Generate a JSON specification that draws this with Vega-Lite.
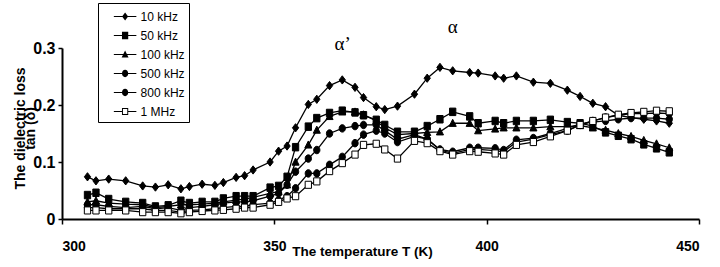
{
  "$schema": "https://vega.github.io/schema/vega-lite/v6.json",
  "autosize": "none",
  "width": 637,
  "height": 171,
  "padding": {"left": 62, "top": 48, "right": 21, "bottom": 48},
  "background": "white",
  "config": {
    "view": {"stroke": null},
    "axis": {"grid": false, "domainColor": "black", "domainWidth": 2, "tickColor": "black", "tickWidth": 1.5, "labelColor": "black", "titleColor": "black"}
  },
  "datasets": {
    "pts": [
      {"s":"10 kHz","T":306,"v":0.074},{"s":"10 kHz","T":308,"v":0.067},{"s":"10 kHz","T":311,"v":0.070},{"s":"10 kHz","T":315,"v":0.067},{"s":"10 kHz","T":319,"v":0.058},{"s":"10 kHz","T":322,"v":0.056},{"s":"10 kHz","T":325,"v":0.060},{"s":"10 kHz","T":328,"v":0.053},{"s":"10 kHz","T":330,"v":0.057},{"s":"10 kHz","T":333,"v":0.061},{"s":"10 kHz","T":336,"v":0.059},{"s":"10 kHz","T":338,"v":0.064},{"s":"10 kHz","T":341,"v":0.073},{"s":"10 kHz","T":343,"v":0.076},{"s":"10 kHz","T":345,"v":0.086},{"s":"10 kHz","T":349,"v":0.100},{"s":"10 kHz","T":351,"v":0.119},{"s":"10 kHz","T":353,"v":0.128},{"s":"10 kHz","T":355,"v":0.160},{"s":"10 kHz","T":358,"v":0.201},{"s":"10 kHz","T":360,"v":0.210},{"s":"10 kHz","T":363,"v":0.234},{"s":"10 kHz","T":366,"v":0.244},{"s":"10 kHz","T":369,"v":0.231},{"s":"10 kHz","T":371,"v":0.213},{"s":"10 kHz","T":374,"v":0.197},{"s":"10 kHz","T":376,"v":0.192},{"s":"10 kHz","T":379,"v":0.198},{"s":"10 kHz","T":383,"v":0.219},{"s":"10 kHz","T":386,"v":0.247},{"s":"10 kHz","T":389,"v":0.266},{"s":"10 kHz","T":392,"v":0.260},{"s":"10 kHz","T":396,"v":0.257},{"s":"10 kHz","T":398,"v":0.256},{"s":"10 kHz","T":402,"v":0.251},{"s":"10 kHz","T":404,"v":0.247},{"s":"10 kHz","T":407,"v":0.251},{"s":"10 kHz","T":411,"v":0.240},{"s":"10 kHz","T":415,"v":0.238},{"s":"10 kHz","T":419,"v":0.226},{"s":"10 kHz","T":422,"v":0.215},{"s":"10 kHz","T":425,"v":0.203},{"s":"10 kHz","T":428,"v":0.197},{"s":"10 kHz","T":431,"v":0.182},{"s":"10 kHz","T":434,"v":0.178},{"s":"10 kHz","T":437,"v":0.175},{"s":"10 kHz","T":440,"v":0.172},{"s":"10 kHz","T":443,"v":0.168},

      {"s":"50 kHz","T":306,"v":0.042},{"s":"50 kHz","T":308,"v":0.046},{"s":"50 kHz","T":311,"v":0.035},{"s":"50 kHz","T":315,"v":0.030},{"s":"50 kHz","T":319,"v":0.028},{"s":"50 kHz","T":322,"v":0.022},{"s":"50 kHz","T":325,"v":0.024},{"s":"50 kHz","T":328,"v":0.032},{"s":"50 kHz","T":330,"v":0.028},{"s":"50 kHz","T":333,"v":0.030},{"s":"50 kHz","T":336,"v":0.030},{"s":"50 kHz","T":338,"v":0.036},{"s":"50 kHz","T":341,"v":0.040},{"s":"50 kHz","T":343,"v":0.040},{"s":"50 kHz","T":345,"v":0.040},{"s":"50 kHz","T":349,"v":0.055},{"s":"50 kHz","T":351,"v":0.058},{"s":"50 kHz","T":353,"v":0.074},{"s":"50 kHz","T":355,"v":0.126},{"s":"50 kHz","T":358,"v":0.162},{"s":"50 kHz","T":360,"v":0.177},{"s":"50 kHz","T":363,"v":0.186},{"s":"50 kHz","T":366,"v":0.190},{"s":"50 kHz","T":369,"v":0.187},{"s":"50 kHz","T":371,"v":0.182},{"s":"50 kHz","T":374,"v":0.174},{"s":"50 kHz","T":376,"v":0.165},{"s":"50 kHz","T":379,"v":0.153},{"s":"50 kHz","T":383,"v":0.153},{"s":"50 kHz","T":386,"v":0.163},{"s":"50 kHz","T":389,"v":0.175},{"s":"50 kHz","T":392,"v":0.188},{"s":"50 kHz","T":396,"v":0.180},{"s":"50 kHz","T":398,"v":0.168},{"s":"50 kHz","T":402,"v":0.172},{"s":"50 kHz","T":404,"v":0.168},{"s":"50 kHz","T":407,"v":0.172},{"s":"50 kHz","T":411,"v":0.172},{"s":"50 kHz","T":415,"v":0.174},{"s":"50 kHz","T":419,"v":0.170},{"s":"50 kHz","T":422,"v":0.168},{"s":"50 kHz","T":425,"v":0.163},{"s":"50 kHz","T":428,"v":0.152},{"s":"50 kHz","T":431,"v":0.146},{"s":"50 kHz","T":434,"v":0.140},{"s":"50 kHz","T":437,"v":0.131},{"s":"50 kHz","T":440,"v":0.124},{"s":"50 kHz","T":443,"v":0.117},

      {"s":"100 kHz","T":306,"v":0.030},{"s":"100 kHz","T":308,"v":0.032},{"s":"100 kHz","T":311,"v":0.028},{"s":"100 kHz","T":315,"v":0.026},{"s":"100 kHz","T":319,"v":0.025},{"s":"100 kHz","T":322,"v":0.020},{"s":"100 kHz","T":325,"v":0.022},{"s":"100 kHz","T":328,"v":0.025},{"s":"100 kHz","T":330,"v":0.025},{"s":"100 kHz","T":333,"v":0.026},{"s":"100 kHz","T":336,"v":0.028},{"s":"100 kHz","T":338,"v":0.030},{"s":"100 kHz","T":341,"v":0.033},{"s":"100 kHz","T":343,"v":0.035},{"s":"100 kHz","T":345,"v":0.038},{"s":"100 kHz","T":349,"v":0.045},{"s":"100 kHz","T":351,"v":0.048},{"s":"100 kHz","T":353,"v":0.060},{"s":"100 kHz","T":355,"v":0.100},{"s":"100 kHz","T":358,"v":0.130},{"s":"100 kHz","T":360,"v":0.156},{"s":"100 kHz","T":363,"v":0.180},{"s":"100 kHz","T":366,"v":0.188},{"s":"100 kHz","T":369,"v":0.188},{"s":"100 kHz","T":371,"v":0.183},{"s":"100 kHz","T":374,"v":0.172},{"s":"100 kHz","T":376,"v":0.160},{"s":"100 kHz","T":379,"v":0.148},{"s":"100 kHz","T":383,"v":0.150},{"s":"100 kHz","T":386,"v":0.152},{"s":"100 kHz","T":389,"v":0.153},{"s":"100 kHz","T":392,"v":0.168},{"s":"100 kHz","T":396,"v":0.168},{"s":"100 kHz","T":398,"v":0.155},{"s":"100 kHz","T":402,"v":0.158},{"s":"100 kHz","T":404,"v":0.160},{"s":"100 kHz","T":407,"v":0.160},{"s":"100 kHz","T":411,"v":0.160},{"s":"100 kHz","T":415,"v":0.162},{"s":"100 kHz","T":419,"v":0.162},{"s":"100 kHz","T":422,"v":0.164},{"s":"100 kHz","T":425,"v":0.160},{"s":"100 kHz","T":428,"v":0.156},{"s":"100 kHz","T":431,"v":0.150},{"s":"100 kHz","T":434,"v":0.145},{"s":"100 kHz","T":437,"v":0.138},{"s":"100 kHz","T":440,"v":0.132},{"s":"100 kHz","T":443,"v":0.125},

      {"s":"500 kHz","T":306,"v":0.025},{"s":"500 kHz","T":308,"v":0.025},{"s":"500 kHz","T":311,"v":0.022},{"s":"500 kHz","T":315,"v":0.020},{"s":"500 kHz","T":319,"v":0.022},{"s":"500 kHz","T":322,"v":0.018},{"s":"500 kHz","T":325,"v":0.020},{"s":"500 kHz","T":328,"v":0.015},{"s":"500 kHz","T":330,"v":0.020},{"s":"500 kHz","T":333,"v":0.022},{"s":"500 kHz","T":336,"v":0.025},{"s":"500 kHz","T":338,"v":0.028},{"s":"500 kHz","T":341,"v":0.030},{"s":"500 kHz","T":343,"v":0.030},{"s":"500 kHz","T":345,"v":0.032},{"s":"500 kHz","T":349,"v":0.040},{"s":"500 kHz","T":351,"v":0.045},{"s":"500 kHz","T":353,"v":0.060},{"s":"500 kHz","T":355,"v":0.083},{"s":"500 kHz","T":358,"v":0.106},{"s":"500 kHz","T":360,"v":0.121},{"s":"500 kHz","T":363,"v":0.150},{"s":"500 kHz","T":366,"v":0.159},{"s":"500 kHz","T":369,"v":0.163},{"s":"500 kHz","T":371,"v":0.165},{"s":"500 kHz","T":374,"v":0.165},{"s":"500 kHz","T":376,"v":0.155},{"s":"500 kHz","T":379,"v":0.140},{"s":"500 kHz","T":383,"v":0.148},{"s":"500 kHz","T":386,"v":0.140},{"s":"500 kHz","T":389,"v":0.122},{"s":"500 kHz","T":392,"v":0.118},{"s":"500 kHz","T":396,"v":0.125},{"s":"500 kHz","T":398,"v":0.125},{"s":"500 kHz","T":402,"v":0.124},{"s":"500 kHz","T":404,"v":0.121},{"s":"500 kHz","T":407,"v":0.139},{"s":"500 kHz","T":411,"v":0.142},{"s":"500 kHz","T":415,"v":0.150},{"s":"500 kHz","T":419,"v":0.159},{"s":"500 kHz","T":422,"v":0.167},{"s":"500 kHz","T":425,"v":0.170},{"s":"500 kHz","T":428,"v":0.172},{"s":"500 kHz","T":431,"v":0.175},{"s":"500 kHz","T":434,"v":0.177},{"s":"500 kHz","T":437,"v":0.177},{"s":"500 kHz","T":440,"v":0.177},{"s":"500 kHz","T":443,"v":0.175},

      {"s":"800 kHz","T":306,"v":0.020},{"s":"800 kHz","T":308,"v":0.020},{"s":"800 kHz","T":311,"v":0.018},{"s":"800 kHz","T":315,"v":0.018},{"s":"800 kHz","T":319,"v":0.018},{"s":"800 kHz","T":322,"v":0.015},{"s":"800 kHz","T":325,"v":0.015},{"s":"800 kHz","T":328,"v":0.012},{"s":"800 kHz","T":330,"v":0.015},{"s":"800 kHz","T":333,"v":0.016},{"s":"800 kHz","T":336,"v":0.018},{"s":"800 kHz","T":338,"v":0.020},{"s":"800 kHz","T":341,"v":0.022},{"s":"800 kHz","T":343,"v":0.022},{"s":"800 kHz","T":345,"v":0.025},{"s":"800 kHz","T":349,"v":0.028},{"s":"800 kHz","T":351,"v":0.033},{"s":"800 kHz","T":353,"v":0.040},{"s":"800 kHz","T":355,"v":0.054},{"s":"800 kHz","T":358,"v":0.080},{"s":"800 kHz","T":360,"v":0.080},{"s":"800 kHz","T":363,"v":0.095},{"s":"800 kHz","T":366,"v":0.109},{"s":"800 kHz","T":369,"v":0.133},{"s":"800 kHz","T":371,"v":0.148},{"s":"800 kHz","T":374,"v":0.155},{"s":"800 kHz","T":376,"v":0.150},{"s":"800 kHz","T":379,"v":0.135},{"s":"800 kHz","T":383,"v":0.145},{"s":"800 kHz","T":386,"v":0.140},{"s":"800 kHz","T":389,"v":0.121},{"s":"800 kHz","T":392,"v":0.115},{"s":"800 kHz","T":396,"v":0.122},{"s":"800 kHz","T":398,"v":0.122},{"s":"800 kHz","T":402,"v":0.120},{"s":"800 kHz","T":404,"v":0.118},{"s":"800 kHz","T":407,"v":0.135},{"s":"800 kHz","T":411,"v":0.140},{"s":"800 kHz","T":415,"v":0.148},{"s":"800 kHz","T":419,"v":0.155},{"s":"800 kHz","T":422,"v":0.165},{"s":"800 kHz","T":425,"v":0.172},{"s":"800 kHz","T":428,"v":0.178},{"s":"800 kHz","T":431,"v":0.182},{"s":"800 kHz","T":434,"v":0.185},{"s":"800 kHz","T":437,"v":0.185},{"s":"800 kHz","T":440,"v":0.186},{"s":"800 kHz","T":443,"v":0.185},

      {"s":"1 MHz","T":306,"v":0.015},{"s":"1 MHz","T":308,"v":0.015},{"s":"1 MHz","T":311,"v":0.015},{"s":"1 MHz","T":315,"v":0.015},{"s":"1 MHz","T":319,"v":0.012},{"s":"1 MHz","T":322,"v":0.012},{"s":"1 MHz","T":325,"v":0.012},{"s":"1 MHz","T":328,"v":0.010},{"s":"1 MHz","T":330,"v":0.012},{"s":"1 MHz","T":333,"v":0.014},{"s":"1 MHz","T":336,"v":0.015},{"s":"1 MHz","T":338,"v":0.016},{"s":"1 MHz","T":341,"v":0.018},{"s":"1 MHz","T":343,"v":0.020},{"s":"1 MHz","T":345,"v":0.020},{"s":"1 MHz","T":349,"v":0.025},{"s":"1 MHz","T":351,"v":0.030},{"s":"1 MHz","T":353,"v":0.036},{"s":"1 MHz","T":355,"v":0.040},{"s":"1 MHz","T":358,"v":0.060},{"s":"1 MHz","T":360,"v":0.066},{"s":"1 MHz","T":363,"v":0.084},{"s":"1 MHz","T":366,"v":0.098},{"s":"1 MHz","T":369,"v":0.113},{"s":"1 MHz","T":371,"v":0.130},{"s":"1 MHz","T":374,"v":0.132},{"s":"1 MHz","T":376,"v":0.122},{"s":"1 MHz","T":379,"v":0.106},{"s":"1 MHz","T":383,"v":0.137},{"s":"1 MHz","T":386,"v":0.133},{"s":"1 MHz","T":389,"v":0.119},{"s":"1 MHz","T":392,"v":0.113},{"s":"1 MHz","T":396,"v":0.119},{"s":"1 MHz","T":398,"v":0.118},{"s":"1 MHz","T":402,"v":0.115},{"s":"1 MHz","T":404,"v":0.113},{"s":"1 MHz","T":407,"v":0.130},{"s":"1 MHz","T":411,"v":0.135},{"s":"1 MHz","T":415,"v":0.145},{"s":"1 MHz","T":419,"v":0.155},{"s":"1 MHz","T":422,"v":0.165},{"s":"1 MHz","T":425,"v":0.172},{"s":"1 MHz","T":428,"v":0.178},{"s":"1 MHz","T":431,"v":0.183},{"s":"1 MHz","T":434,"v":0.186},{"s":"1 MHz","T":437,"v":0.188},{"s":"1 MHz","T":440,"v":0.190},{"s":"1 MHz","T":443,"v":0.189}
    ],
    "notes": [
      {"label": "α’", "T": 366.1, "v": 0.307},
      {"label": "α", "T": 392, "v": 0.337}
    ]
  },
  "resolve": {"scale": {"shape": "independent"}, "legend": {"shape": "independent"}},
  "layer": [
    {
      "data": {"name": "pts"},
      "mark": {"type": "line", "color": "black", "strokeWidth": 1.3},
      "encoding": {
        "x": {"field": "T", "type": "quantitative", "scale": {"domain": [300, 450], "nice": false, "zero": false},
          "axis": {"values": [300, 350, 400, 450], "labelFont": "Liberation Sans", "labelFontWeight": "bold", "labelFontSize": 14, "tickSize": 5, "labelPadding": 15, "title": "The temperature  T (K)", "titleFont": "Liberation Sans", "titleFontWeight": "bold", "titleFontSize": 13.5, "titleX": 300, "titleY": 36, "titleAlign": "center", "titleBaseline": "alphabetic", "titleAnchor": null}},
        "y": {"field": "v", "type": "quantitative", "scale": {"domain": [0, 0.3], "nice": false},
          "axis": {"values": [0, 0.1, 0.2, 0.3], "format": "~g", "labelFont": "Liberation Sans", "labelFontWeight": "bold", "labelFontSize": 16, "tickSize": 4, "labelPadding": 3, "title": ["The dielectric loss", "tan (δ)"], "titleFont": "Liberation Sans", "titleFontWeight": "bold", "titleFontSize": 14, "titleLineHeight": 10, "titleX": -42, "titleY": 80, "titleAlign": "center", "titleBaseline": "middle", "titleAngle": 270}},
        "detail": {"field": "s"}
      }
    },
    {
      "data": {"name": "pts"},
      "mark": {"type": "point", "size": 62, "stroke": "black", "strokeWidth": 1, "opacity": 1},
      "encoding": {
        "x": {"field": "T", "type": "quantitative"},
        "y": {"field": "v", "type": "quantitative"},
        "fill": {"field": "s", "type": "nominal", "scale": {"domain": ["10 kHz", "50 kHz", "100 kHz", "500 kHz", "800 kHz", "1 MHz"], "range": ["black", "black", "black", "black", "black", "white"]}, "legend": null},
        "shape": {"field": "s", "type": "nominal",
          "scale": {"domain": ["10 kHz", "50 kHz", "100 kHz", "500 kHz", "800 kHz", "1 MHz"],
            "range": ["M0,-1.05L0.8,0L0,1.05L-0.8,0Z", "M-0.8,-0.95L0.8,-0.95L0.8,0.95L-0.8,0.95Z", "M0,-1L0.9,0.8L-0.9,0.8Z", "M0.8,0A0.8,0.95,0,1,1,-0.8,0A0.8,0.95,0,1,1,0.8,0Z", "M0.8,0A0.8,0.95,0,1,1,-0.8,0A0.8,0.95,0,1,1,0.8,0Z", "M-0.8,-0.9L0.8,-0.9L0.8,0.9L-0.8,0.9Z"]},
          "legend": null
        }
      }
    },
    {
      "data": {"name": "pts"},
      "mark": {"type": "point", "size": 0, "filled": true, "color": "black", "stroke": "black", "strokeWidth": 1, "opacity": 1},
      "encoding": {
        "x": {"field": "T", "type": "quantitative"},
        "y": {"field": "v", "type": "quantitative"},
        "shape": {"field": "s", "type": "nominal",
          "scale": {"domain": ["10 kHz", "50 kHz", "100 kHz", "500 kHz", "800 kHz", "1 MHz"],
            "range": [
              "M-1.3,-0.06L1.3,-0.06L1.3,0.06L-1.3,0.06ZM0,-0.46L0.35,0L0,0.46L-0.35,0Z",
              "M-1.3,-0.06L1.3,-0.06L1.3,0.06L-1.3,0.06ZM-0.36,-0.42L0.36,-0.42L0.36,0.42L-0.36,0.42Z",
              "M-1.3,-0.06L1.3,-0.06L1.3,0.06L-1.3,0.06ZM0,-0.46L0.4,0.34L-0.4,0.34Z",
              "M-1.3,-0.06L1.3,-0.06L1.3,0.06L-1.3,0.06ZM0.36,0A0.36,0.42,0,1,1,-0.36,0A0.36,0.42,0,1,1,0.36,0Z",
              "M-1.3,-0.06L1.3,-0.06L1.3,0.06L-1.3,0.06ZM0.36,0A0.36,0.42,0,1,1,-0.36,0A0.36,0.42,0,1,1,0.36,0Z",
              "M-1.3,-0.06L-0.36,-0.06L-0.36,0.06L-1.3,0.06ZM0.36,-0.06L1.3,-0.06L1.3,0.06L0.36,0.06ZM-0.36,-0.4L0.36,-0.4L0.36,0.4L-0.36,0.4ZM-0.25,-0.29L-0.25,0.29L0.25,0.29L0.25,-0.29Z"
            ]},
          "legend": {"orient": "none", "legendX": 36, "legendY": -45, "title": null, "strokeColor": "black", "fillColor": "white", "padding": 4, "symbolSize": 300, "symbolOffset": 13.6, "labelOffset": 6, "rowPadding": 3, "labelFont": "Liberation Sans", "labelFontSize": 12, "labelColor": "black", "symbolStrokeWidth": 1, "symbolFillColor": "black", "symbolStrokeColor": "black", "symbolOpacity": 1}
        }
      }
    },
    {
      "data": {"name": "notes"},
      "mark": {"type": "text", "font": "Liberation Serif", "fontSize": 19, "align": "center", "baseline": "middle", "color": "black", "clip": false},
      "encoding": {
        "x": {"field": "T", "type": "quantitative"},
        "y": {"field": "v", "type": "quantitative"},
        "text": {"field": "label"}
      }
    }
  ]
}
